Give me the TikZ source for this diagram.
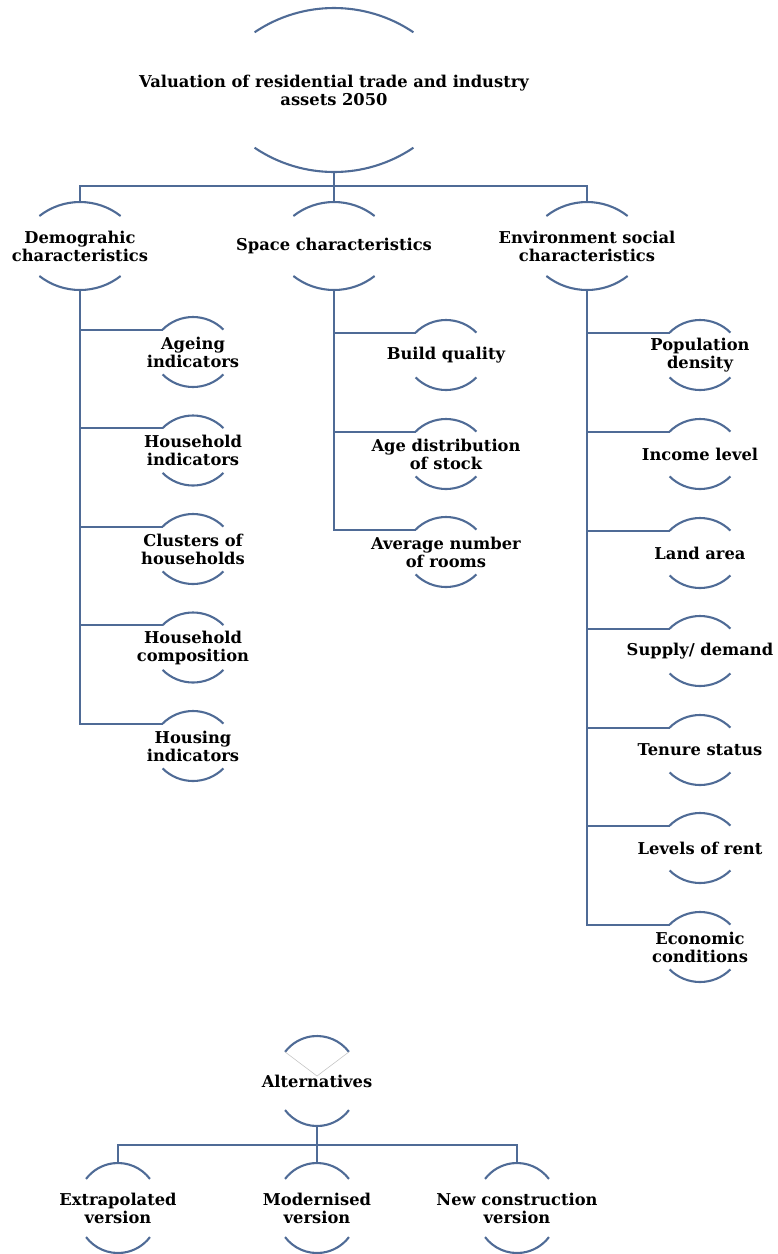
\documentclass[tikz,border=0pt]{standalone}
\usepackage{fontspec}
\setmainfont{DejaVu Serif}
\usetikzlibrary{calc}
\definecolor{linkblue}{RGB}{79,107,150}
\tikzset{
  lbl/.style={align=center, inner sep=0pt, font=\bfseries\fontsize{16.3}{18}\selectfont},
  bigbox/.style={lbl, minimum height=164},
  midbox/.style={lbl, minimum height=88},
  smallbox/.style={lbl, minimum height=70},
  altbox/.style={lbl, minimum height=90},
  arcline/.style={draw=linkblue, line width=2.1pt},
  conn/.style={draw=linkblue, line width=2.1pt},
}
% two circle arcs round a node: half height, radius, half angle
\newcommand{\arcsof}[4]{%
  \coordinate (#1-c) at ($(#1.center)+(0,#2-#3)$);
  \draw[arcline] ($(#1-c)+({90-#4}:#3)$) coordinate (#1-r)
    arc[start angle={90-#4}, end angle={90+#4}, radius=#3] coordinate (#1-l);
  \draw[arcline] ($(#1.center)+(0,-#2+#3)+({270-#4}:#3)$)
    arc[start angle={270-#4}, end angle={270+#4}, radius=#3];
}
\begin{document}
\begin{tikzpicture}[x=1pt, y=1pt]
\useasboundingbox (0,0) rectangle (778,-1254);

\node (root) [bigbox] at (334,-90) {Valuation of residential trade and industry\\assets 2050};

\node (demo) [midbox] at (80,-246) {Demograhic\\characteristics};
\node (space) [midbox] at (334,-246) {Space characteristics};
\node (env) [midbox] at (587,-246) {Environment social\\characteristics};

\node (ageing) [smallbox] at (193,-352) {Ageing\\indicators};
\node (hhind) [smallbox] at (193,-450.5) {Household\\indicators};
\node (clust) [smallbox] at (193,-549) {Clusters of\\households};
\node (hhcomp) [smallbox] at (193,-647.5) {Household\\composition};
\node (housing) [smallbox] at (193,-746) {Housing\\indicators};

\node (build) [smallbox] at (446,-355) {Build quality};
\node (agedist) [smallbox] at (446,-454) {Age distribution\\of stock};
\node (rooms) [smallbox] at (446,-552) {Average number\\of rooms};

\node (popdens) [smallbox] at (700,-355) {Population\\density};
\node (income) [smallbox] at (700,-454) {Income level};
\node (land) [smallbox] at (700,-553) {Land area};
\node (supply) [smallbox] at (700,-651) {Supply/ demand};
\node (tenure) [smallbox] at (700,-750) {Tenure status};
\node (rent) [smallbox] at (700,-848) {Levels of rent};
\node (econ) [smallbox] at (700,-947) {Economic\\conditions};

\node (alt) [altbox] at (317,-1081) {Alternatives};
\node (extra) [altbox] at (118,-1208) {Extrapolated\\version};
\node (modern) [altbox] at (317,-1208) {Modernised\\version};
\node (newcon) [altbox] at (517,-1208) {New construction\\version};

\arcsof{root}{82}{142}{34}
\foreach \n in {demo,space,env} {\arcsof{\n}{44}{66}{38}}
\foreach \n in {ageing,hhind,clust,hhcomp,housing,build,agedist,rooms,popdens,income,land,supply,tenure,rent,econ} {\arcsof{\n}{35}{43}{45}}
\foreach \n in {alt,extra,modern,newcon} {\arcsof{\n}{45}{40}{53}}

\draw[gray!45, line width=0.6pt] (alt-r) -- (alt-c) -- (alt-l);

\draw[conn] (root.south) -- ++(0,-14) -| (demo.north);
\draw[conn] (root.south) -- ++(0,-14) -| (env.north);
\draw[conn] (root.south) -- (space.north);

\foreach \c in {ageing,hhind,clust,hhcomp,housing} {\draw[conn] (demo.south) |- (\c-l);}
\foreach \c in {build,agedist,rooms} {\draw[conn] (space.south) |- (\c-l);}
\foreach \c in {popdens,income,land,supply,tenure,rent,econ} {\draw[conn] (env.south) |- (\c-l);}

\draw[conn] (alt.south) -- ++(0,-19) -| (extra.north);
\draw[conn] (alt.south) -- ++(0,-19) -| (newcon.north);
\draw[conn] (alt.south) -- (modern.north);
\end{tikzpicture}
\end{document}
